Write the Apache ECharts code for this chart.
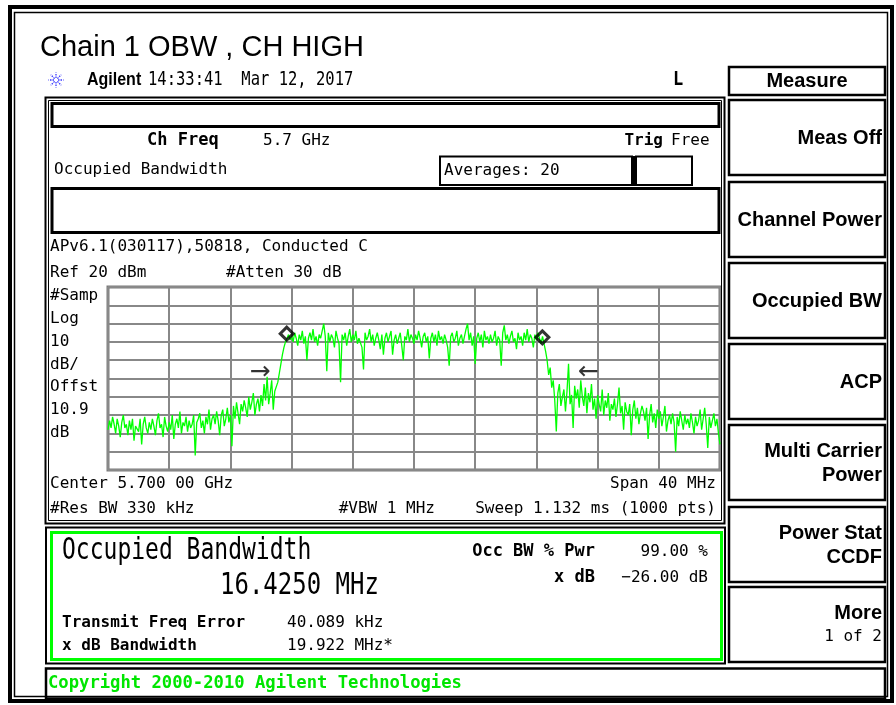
<!DOCTYPE html>
<html>
<head>
<meta charset="utf-8">
<title>Chain 1 OBW , CH HIGH</title>
<script src="https://cdn.jsdelivr.net/npm/echarts@6/dist/echarts.min.js"></script>
<style>
  html, body { margin: 0; padding: 0; background: #fff; }
  #chart { width: 896px; height: 705px; }
</style>
</head>
<body>
<div id="chart"></div>
<script>
// Spectrum trace: 5680 MHz .. 5720 MHz (span 40 MHz), one sample every 0.1 MHz, dBm
const traceStartMHz = 5680;
const traceStepMHz = 0.1;
const traceDbm = [
  -58,-53,-57,-51,-55,-60,-52,-56,-62,-54,
  -50,-57,-55,-61,-53,-58,-52,-64,-56,-55,
  -59,-52,-66,-55,-51,-57,-60,-54,-58,-52,
  -56,-61,-53,-49,-57,-55,-62,-51,-56,-59,
  -54,-58,-50,-63,-55,-52,-57,-48,-60,-54,
  -56,-51,-59,-53,-57,-55,-50,-72,-54,-52,
  -49,-57,-53,-60,-51,-55,-47,-58,-52,-50,
  -55,-48,-53,-61,-50,-47,-56,-52,-46,-54,
  -50,-67,-45,-52,-43,-49,-55,-44,-48,-42,
  -46,-51,-40,-47,-43,-38,-50,-44,-41,-48,
  -39,-45,-33,-42,-29,-44,-38,-31,-47,-37,
  -38,-32,-27,-22,-17,-13,-10,-8,-6,-9,
  -7,-10,-5,-8,-12,-6,-9,-4,-11,-7,
  -20,-8,-5,-9,-3,-10,-7,-12,-6,-8,
  -9,0,-7,-26,-5,-10,-6,-8,-13,-4,
  -8,-11,-32,-6,-9,-5,-12,-7,-3,-10,
  -6,-9,-4,-11,-8,-7,-13,-25,-5,-9,
  -7,-3,-10,-6,-12,-8,-5,-9,-14,-6,
  -17,-8,-5,-10,-7,-4,-17,-9,-6,-11,
  -8,-5,-12,-20,-7,-9,-3,-10,-6,-8,
  -11,-6,-9,-4,-8,-13,-7,-5,-10,-7,
  -19,-8,-5,-10,-6,-12,-4,-9,-7,-11,
  -6,-9,-13,-23,-7,-5,-10,-8,-4,-12,
  -8,-6,-11,-7,-3,0,-9,-5,-12,-7,
  -22,-8,-5,-10,-6,-13,-4,-9,-7,-11,
  -6,-10,-8,-4,-12,-7,-9,-23,-5,-1,
  -9,-6,-11,-7,-4,-10,-8,-14,-5,-9,
  -7,-12,-5,-9,-3,-10,-6,-8,-13,-6,
  -9,-5,-8,-11,-7,-8,-15,-20,-28,-24,
  -35,-31,-42,-59,-38,-33,-45,-40,-36,-48,
  -37,-22,-44,-39,-57,-34,-41,-36,-46,-31,
  -40,-45,-35,-49,-38,-43,-33,-47,-41,-52,
  -39,-44,-48,-36,-50,-42,-46,-38,-53,-44,
  -47,-41,-51,-44,-35,-49,-45,-58,-43,-48,
  -50,-44,-61,-47,-42,-52,-46,-55,-49,-45,
  -48,-53,-46,-63,-50,-44,-54,-49,-57,-47,
  -52,-48,-56,-51,-45,-59,-53,-50,-55,-49,
  -54,-70,-51,-56,-48,-53,-58,-50,-55,-52,
  -57,-49,-54,-60,-51,-56,-53,-47,-58,-52,
  -46,-55,-68,-51,-57,-53,-49,-56,-52,-60,
  -66
];

// Occupied-bandwidth edge markers [MHz, dBm]
const obwMarkers = [[5691.68, -5.5], [5708.39, -7.5]];
// x dB bandwidth edge arrows [MHz, dBm, glyph]
const xdbArrows = [[5689.93, -26.5, '\u2192'], [5711.4, -26.5, '\u2190']];

// Axis scales: 10 divisions each way
const freqMin = 5680, freqMax = 5720, freqDiv = 4;
const ampMin = -80, ampMax = 20, ampDiv = 10;

const tracePoints = traceDbm.map((v, i) => [+(traceStartMHz + i * traceStepMHz).toFixed(2), v]);

const MONO = '"DejaVu Sans Mono", monospace';
const SANS = '"Liberation Sans", Arial, sans-serif';

function text(x, y, s, font, opt) {
  opt = opt || {};
  return {
    type: 'text', x: x, y: y, z: 10,
    scaleX: opt.sx || 1, scaleY: opt.sy || 1,
    style: {
      text: s, x: 0, y: 0, font: font,
      fill: opt.fill || '#000',
      textAlign: opt.align || 'left',
      textVerticalAlign: 'middle'
    }
  };
}
function box(x, y, w, h, lw, stroke) {
  return {
    type: 'rect', z: 9,
    shape: { x: x, y: y, width: w, height: h },
    style: { fill: 'none', stroke: stroke || '#000', lineWidth: lw }
  };
}

const regular = '16px ' + MONO;
const bold = 'bold 16px ' + MONO;
const keyFont = 'bold 20px ' + SANS;

const graphics = [];

// outer frame
graphics.push(box(10, 7, 882, 694, 4));
graphics.push(box(14.5, 12.5, 873, 684, 1.5));

// heading
graphics.push(text(40, 48, 'Chain 1 OBW , CH HIGH', '29px ' + SANS));

// starburst logo
const logo = { type: 'group', x: 56, y: 80, z: 10, children: [] };
for (let k = 0; k < 8; k++) {
  const a = k * Math.PI / 4;
  logo.children.push({
    type: 'line',
    shape: { x1: Math.cos(a) * 2, y1: Math.sin(a) * 2, x2: Math.cos(a) * 7.5, y2: Math.sin(a) * 7.5 },
    style: { stroke: '#3a3aff', lineWidth: 1.3, lineDash: [1.5, 1] }
  });
}
graphics.push(logo);
graphics.push(text(87, 80, 'Agilent', 'bold 16px ' + SANS, { sy: 1.1 }));
graphics.push(text(148, 80, '14:33:41  Mar 12, 2017', '15.5px ' + MONO, { sy: 1.25 }));
graphics.push(text(673, 80, 'L', 'bold 17px ' + MONO, { sy: 1.15 }));

// soft keys
graphics.push(box(729, 67, 156, 28, 2.5));
graphics.push(text(807, 81, 'Measure', keyFont, { align: 'center' }));
const keys = [
  { y: 100, lines: [['Meas Off', keyFont]] },
  { y: 182, lines: [['Channel Power', keyFont]] },
  { y: 263, lines: [['Occupied BW', keyFont]] },
  { y: 344, lines: [['ACP', keyFont]] },
  { y: 425, lines: [['Multi Carrier', keyFont], ['Power', keyFont]] },
  { y: 507, lines: [['Power Stat', keyFont], ['CCDF', keyFont]] },
  { y: 587, lines: [['More', keyFont], ['1 of 2', regular]] }
];
keys.forEach(k => {
  graphics.push(box(729, k.y, 156, 75, 2.5));
  const mid = k.y + 38;
  if (k.lines.length === 1) {
    graphics.push(text(882, mid, k.lines[0][0], k.lines[0][1], { align: 'right' }));
  } else {
    graphics.push(text(882, mid - 12, k.lines[0][0], k.lines[0][1], { align: 'right' }));
    graphics.push(text(882, mid + 12, k.lines[1][0], k.lines[1][1], { align: 'right' }));
  }
});

// upper display panel
graphics.push(box(45.5, 97.5, 679, 426, 2));
graphics.push(box(48.5, 100.5, 673, 420, 1));
graphics.push(box(52, 103.5, 667, 23, 3));
graphics.push(text(147, 141, 'Ch Freq', 'bold 17px ' + MONO));
graphics.push(text(263, 141, '5.7 GHz', regular));
graphics.push(text(663, 141, 'Trig', bold, { align: 'right' }));
graphics.push(text(671, 141, 'Free', regular));
graphics.push(text(54, 170, 'Occupied Bandwidth', regular));
graphics.push(box(440, 156.5, 192, 28.5, 2));
graphics.push({ type: 'rect', z: 9, shape: { x: 631, y: 156, width: 5, height: 30 }, style: { fill: '#000' } });
graphics.push(box(636, 156.5, 56, 28.5, 2));
graphics.push(text(444, 171, 'Averages: 20', regular));
graphics.push(box(52, 188.5, 667, 44, 3));
graphics.push(text(50, 247, 'APv6.1(030117),50818, Conducted C', regular));
graphics.push(text(50, 273, 'Ref 20 dBm', regular));
graphics.push(text(226, 273, '#Atten 30 dB', regular));
['#Samp', 'Log', '10', 'dB/', 'Offst', '10.9', 'dB'].forEach((s, i) => {
  graphics.push(text(50, 296 + i * 22.8, s, regular));
});
graphics.push(text(50, 484, 'Center 5.700 00 GHz', regular));
graphics.push(text(716, 484, 'Span 40 MHz', regular, { align: 'right' }));
graphics.push(text(50, 509, '#Res BW 330 kHz', regular));
graphics.push(text(435, 509, '#VBW 1 MHz', regular, { align: 'right' }));
graphics.push(text(716, 509, 'Sweep 1.132 ms (1000 pts)', regular, { align: 'right' }));

// measurement results panel
graphics.push(box(46, 527.5, 679, 136, 2));
graphics.push(box(51.5, 532.5, 670, 127, 3, '#00ff00'));
graphics.push(text(62, 551, 'Occupied Bandwidth', '23px ' + MONO, { sy: 1.3 }));
graphics.push(text(220, 586, '16.4250 MHz', '24px ' + MONO, { sy: 1.25 }));
graphics.push(text(62, 623, 'Transmit Freq Error', bold));
graphics.push(text(287, 623, '40.089 kHz', regular));
graphics.push(text(62, 646, 'x dB Bandwidth', bold));
graphics.push(text(287, 646, '19.922 MHz*', regular));
graphics.push(text(595, 552, 'Occ BW % Pwr', 'bold 17px ' + MONO, { align: 'right' }));
graphics.push(text(708, 552, '99.00 %', regular, { align: 'right' }));
graphics.push(text(595, 578, 'x dB', 'bold 17px ' + MONO, { align: 'right' }));
graphics.push(text(708, 578, '\u221226.00 dB', regular, { align: 'right' }));

// copyright bar
graphics.push(box(46, 668.5, 839, 30, 2.5));
graphics.push(text(48, 684, 'Copyright 2000-2010 Agilent Technologies', 'bold 17.2px ' + MONO, { fill: '#00e600' }));

const chart = echarts.init(document.getElementById('chart'), null, { renderer: 'canvas' });
chart.setOption({
  backgroundColor: '#ffffff',
  animation: false,
  grid: {
    left: 108, top: 287, width: 612, height: 183,
    show: true, borderColor: '#7a7a7a', borderWidth: 3, backgroundColor: 'transparent'
  },
  xAxis: {
    type: 'value', min: freqMin, max: freqMax, interval: freqDiv,
    axisLine: { show: false }, axisTick: { show: false }, axisLabel: { show: false },
    splitLine: { show: true, lineStyle: { color: '#888888', width: 2 } }
  },
  yAxis: {
    type: 'value', min: ampMin, max: ampMax, interval: ampDiv,
    axisLine: { show: false }, axisTick: { show: false }, axisLabel: { show: false },
    splitLine: { show: true, lineStyle: { color: '#888888', width: 2 } }
  },
  series: [
    {
      name: 'Trace', type: 'line', data: tracePoints,
      showSymbol: false, symbol: 'none',
      lineStyle: { color: '#00ff00', width: 1.3 },
      z: 3
    },
    {
      name: 'OBW edges', type: 'scatter', data: obwMarkers,
      symbol: 'diamond', symbolSize: [13, 13],
      itemStyle: { color: 'rgba(255,255,255,0)', borderColor: '#000', borderWidth: 3 },
      z: 5
    },
    {
      name: 'x dB edges', type: 'scatter',
      data: xdbArrows.map(a => ({ value: [a[0], a[1]], glyph: a[2] })),
      symbol: 'circle', symbolSize: 2,
      itemStyle: { color: 'rgba(0,0,0,0)' },
      label: {
        show: true, position: 'inside',
        formatter: p => p.data.glyph,
        fontFamily: '"DejaVu Sans"', fontSize: 25, color: '#000'
      },
      z: 6
    }
  ],
  graphic: graphics
});
</script>
</body>
</html>
